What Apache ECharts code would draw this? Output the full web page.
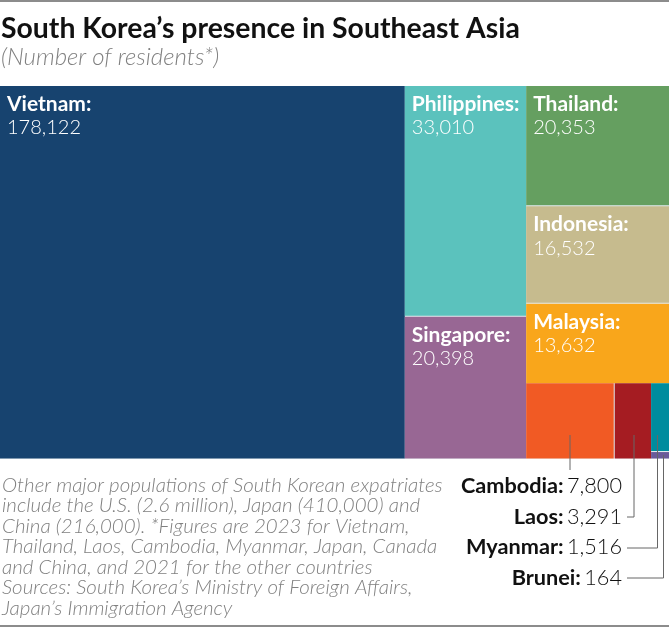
<!DOCTYPE html>
<html>
<head>
<meta charset="utf-8">
<style>
    html, body { margin: 0; padding: 0; background: #fff; }
    #chart { width: 669px; height: 627px; overflow: hidden; }
</style>
<script src="https://cdn.jsdelivr.net/npm/echarts@6/dist/echarts.min.js"></script>
</head>
<body>
<div id="chart"></div>
<script>
var countries = ['Vietnam', 'Philippines', 'Singapore', 'Thailand', 'Indonesia', 'Malaysia', 'Cambodia', 'Laos', 'Myanmar', 'Brunei'];
var residents = [178122, 33010, 20398, 20353, 16532, 13632, 7800, 3291, 1516, 164];
var colors = ['#17436f', '#5bc2bd', '#986794', '#659f60', '#c6bb8e', '#f9a61b', '#f15a24', '#a51c22', '#008c9e', '#6a5a9a'];
var labelled = ['Vietnam', 'Philippines', 'Singapore', 'Thailand', 'Indonesia', 'Malaysia'];
var calloutNames = ['Cambodia', 'Laos', 'Myanmar', 'Brunei'];
var footnote = [
    'Other major populations of South Korean expatriates',
    'include the U.S. (2.6 million), Japan (410,000) and',
    'China (216,000). *Figures are 2023 for Vietnam,',
    'Thailand, Laos, Cambodia, Myanmar, Japan, Canada',
    'and China, and 2021 for the other countries',
    'Sources: South Korea\u2019s Ministry of Foreign Affairs,',
    'Japan\u2019s Immigration Agency'
];

var FONT = 'Lato, "Noto Sans", sans-serif';
var chartW = 670, mapTop = 86, mapH = 372.5;

function fmt(n) {
    return String(n).replace(/\B(?=(\d{3})+$)/g, ',');
}
function sumOf(names) {
    var s = 0;
    names.forEach(function (n) { s += residents[countries.indexOf(n)]; });
    return s;
}
function nodes(names) {
    return names.map(function (n) {
        var i = countries.indexOf(n);
        return {
            name: n,
            value: residents[i],
            itemStyle: { color: colors[i] },
            label: { show: labelled.indexOf(n) >= 0 }
        };
    });
}
// one treemap per slice, the tiny squareRatio gives each country its own strip
function tile(names, left, top, width, height) {
    return {
        type: 'treemap',
        left: left,
        top: top,
        width: width,
        height: height,
        sort: false,
        squareRatio: 1e-6,
        roam: false,
        nodeClick: false,
        silent: true,
        animation: false,
        breadcrumb: { show: false },
        itemStyle: { gapWidth: 1, borderWidth: 0, borderColor: '#e3ebef' },
        label: {
            show: true,
            position: [2, 1],
            overflow: 'none',
            formatter: function (p) {
                return '{n|' + p.name + ':}\n{v|' + fmt(p.value) + '}';
            },
            rich: {
                n: { fontFamily: FONT, fontWeight: 'bold', fontSize: 21, lineHeight: 24, color: '#fff' },
                v: { fontFamily: FONT, fontWeight: 300, fontSize: 20, lineHeight: 24, color: '#fff' }
            }
        },
        data: nodes(names)
    };
}

var total = sumOf(countries);
var col1 = ['Vietnam'], col2 = ['Philippines', 'Singapore'], col3 = ['Thailand', 'Indonesia', 'Malaysia'];
var row4 = ['Cambodia', 'Laos'], pair = ['Myanmar', 'Brunei'];
var bottom = sumOf(row4) + sumOf(pair);
var col3All = sumOf(col3) + bottom;

var w1 = chartW * sumOf(col1) / total;
var w2 = chartW * sumOf(col2) / total;
var w3 = chartW - w1 - w2;
var h3 = mapH * sumOf(col3) / col3All;
var w4 = w3 * sumOf(row4) / bottom;

var calloutRows = [486, 517, 547, 578];
var leaders = [
    [[570, 435], [570, 470]],
    [[634, 435], [634, 517], [627, 517]],
    [[657.5, 435], [657.5, 548], [627, 548]],
    [[663.5, 455], [663.5, 578], [627, 578]]
];

var graphics = [
    { type: 'rect', shape: { x: 0, y: 0, width: 669, height: 2 }, style: { fill: '#8c8c8c' } },
    { type: 'rect', shape: { x: 0, y: 625, width: 669, height: 2 }, style: { fill: '#8c8c8c' } },
    { type: 'text', x: 1, y: 29, style: { text: 'South Korea\u2019s presence in Southeast Asia', font: 'bold 28.4px ' + FONT, fill: '#111', verticalAlign: 'middle' } },
    { type: 'text', x: 1, y: 57, style: { text: '(Number of residents*)', font: 'italic 300 24px ' + FONT, fill: '#808080', verticalAlign: 'middle' } }
];
footnote.forEach(function (line, i) {
    graphics.push({ type: 'text', x: 2, y: 485 + i * 20.5, style: { text: line, font: 'italic 300 20.5px ' + FONT, fill: '#808080', verticalAlign: 'middle' } });
});
calloutNames.forEach(function (n, i) {
    graphics.push({
        type: 'text', x: 622, y: calloutRows[i], z: 10,
        style: {
            text: '{n|' + n + ':} {v|' + fmt(residents[countries.indexOf(n)]) + '}',
            align: 'right', verticalAlign: 'middle',
            rich: {
                n: { fontFamily: FONT, fontWeight: 'bold', fontSize: 21.7, fill: '#111' },
                v: { fontFamily: FONT, fontWeight: 300, fontSize: 21.7, fill: '#111' }
            }
        }
    });
    graphics.push({ type: 'polyline', z: 10, shape: { points: leaders[i] }, style: { stroke: '#666', lineWidth: 1, fill: null } });
});

var myChart = echarts.init(document.querySelector('#chart'), null, { renderer: 'canvas', width: 669, height: 627 });
myChart.setOption({
    backgroundColor: '#fff',
    animation: false,
    tooltip: { show: false },
    graphic: graphics,
    series: [
        tile(col1, 0, mapTop, w1, mapH),
        tile(col2, w1, mapTop, w2, mapH),
        tile(col3, w1 + w2, mapTop, w3, h3),
        tile(row4, w1 + w2, mapTop + h3, w4, mapH - h3),
        tile(pair, w1 + w2 + w4, mapTop + h3, w3 - w4, mapH - h3)
    ]
});
</script>
</body>
</html>
